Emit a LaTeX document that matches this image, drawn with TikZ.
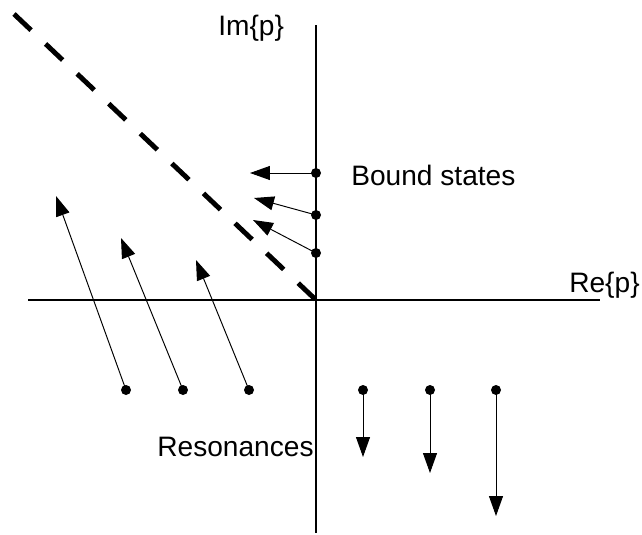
\documentclass[tikz,border=0pt]{standalone}
\usepackage{fontspec}
\setmainfont{Liberation Sans}
\usetikzlibrary{arrows.meta}

\begin{document}
\begin{tikzpicture}[
    x=0.02cm, y=-0.02cm,
    every node/.style={font=\fontsize{16}{19}\selectfont, inner sep=0pt},
    axis/.style={line width=0.7pt},
    arrow/.style={-{Triangle[length=0.4cm, width=0.28cm]}, line width=0.55pt},
    dot/.style={circle, fill, inner sep=0pt, minimum size=0.2cm},
    cut/.style={line width=2.8pt, dash pattern=on 0.47cm off 0.4cm}
]
\useasboundingbox (0,0) rectangle (642,534);

% axes
\coordinate (o) at (316,300);
\coordinate (xl) at (28,300);
\coordinate (xr) at (600,300);
\coordinate (yt) at (316,25);
\coordinate (yb) at (316,533);
\draw[axis] (xl) -- (xr);
\draw[axis] (yt) -- (yb);
\node[anchor=base west] (im) at (218,35) {Im\{p\}};
\node[anchor=base east] (re) at (640,292) {Re\{p\}};

% dashed line
\coordinate (ct) at (14,14);
\draw[cut] (ct) -- (o);

% bound states
\node[dot] (b1) at (316,173) {};
\node[dot] (b2) at (316,215) {};
\node[dot] (b3) at (316,253) {};
\coordinate (tb1) at (250,173);
\coordinate (tb2) at (254,198);
\coordinate (tb3) at (253,220);
\draw[arrow] (b1.center) -- (tb1);
\draw[arrow] (b2.center) -- (tb2);
\draw[arrow] (b3.center) -- (tb3);
\node[anchor=base west] (bound) at (351,185) {Bound states};

% resonances
\node[dot] (r1) at (126,390) {};
\node[dot] (r2) at (183,390) {};
\node[dot] (r3) at (249,390) {};
\coordinate (tr1) at (56,196);
\coordinate (tr2) at (121,238);
\coordinate (tr3) at (196,260);
\draw[arrow] (r1.center) -- (tr1);
\draw[arrow] (r2.center) -- (tr2);
\draw[arrow] (r3.center) -- (tr3);

\node[dot] (s1) at (363,390) {};
\node[dot] (s2) at (430,390) {};
\node[dot] (s3) at (496,390) {};
\coordinate (ts1) at (363,457);
\coordinate (ts2) at (430,473);
\coordinate (ts3) at (496,516);
\draw[arrow] (s1.center) -- (ts1);
\draw[arrow] (s2.center) -- (ts2);
\draw[arrow] (s3.center) -- (ts3);
\node[anchor=base west] (reson) at (157,456) {Resonances};
\end{tikzpicture}
\end{document}
